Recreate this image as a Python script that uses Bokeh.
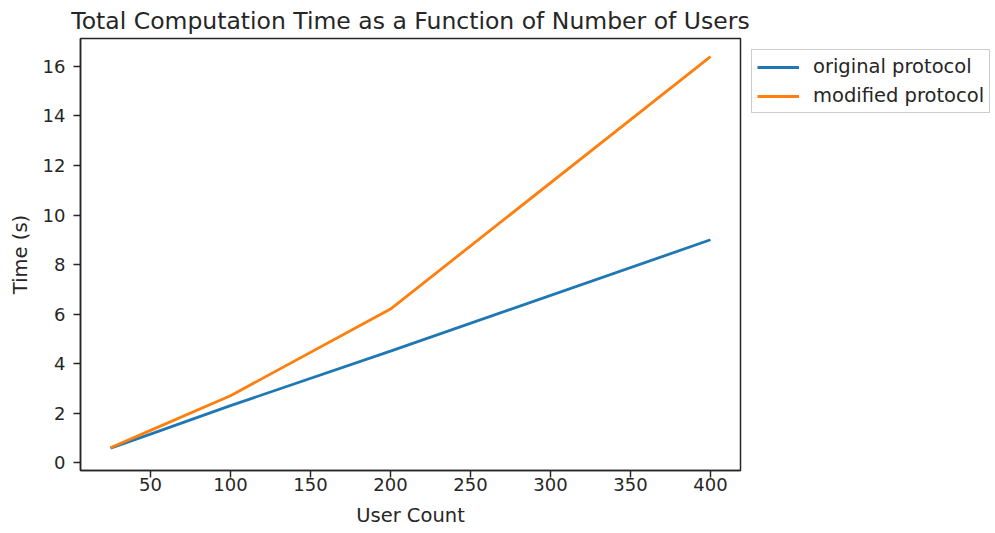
from bokeh.plotting import figure
from bokeh.models import FixedTicker, Range1d, Legend, LegendItem
from bokeh.embed import file_html
from bokeh.resources import INLINE

user_count = [25, 50, 100, 200, 400]
original_protocol = [0.58, 1.15, 2.3, 4.5, 9.0]
modified_protocol = [0.6, 1.3, 2.7, 6.2, 16.4]
x_ticks = [50, 100, 150, 200, 250, 300, 350, 400]
y_ticks = [0, 2, 4, 6, 8, 10, 12, 14, 16]

FONT = "DejaVu Sans"
TXT = "#262626"

p = figure(frame_width=660, frame_height=432, output_backend="svg", toolbar_location=None,
           x_range=Range1d(6.25, 418.75), y_range=Range1d(-0.32, 17.13),
           title="Total Computation Time as a Function of Number of Users")
p.min_border_left = 80
p.min_border_right = 0
p.min_border_bottom = 2
p.min_border_top = 4

p.title.align = "center"
p.title.text_font = FONT
p.title.text_font_size = "23.5px"
p.title.text_font_style = "normal"
p.title.text_color = TXT
p.title.standoff = 8

p.xgrid.visible = False
p.ygrid.visible = False
p.outline_line_color = "#262626"
p.outline_line_width = 1.5
p.background_fill_color = "white"
p.border_fill_color = "white"

for ax in (p.xaxis[0], p.yaxis[0]):
    ax.major_tick_out = 7
    ax.major_tick_in = 0
    ax.minor_tick_out = 0
    ax.minor_tick_in = 0
    ax.major_label_text_font = FONT
    ax.major_label_text_font_size = "18px"
    ax.major_label_text_color = TXT
    ax.axis_label_text_font = FONT
    ax.axis_label_text_font_size = "19.5px"
    ax.axis_label_text_font_style = "normal"
    ax.axis_label_text_color = TXT
    ax.axis_line_color = "#262626"
    ax.axis_line_width = 1.5
    ax.major_tick_line_color = "#262626"
    ax.major_tick_line_width = 1.5

p.xaxis[0].ticker = FixedTicker(ticks=x_ticks)
p.yaxis[0].ticker = FixedTicker(ticks=y_ticks)
p.xaxis[0].axis_label = "User Count"
p.yaxis[0].axis_label = "Time (s)"
p.xaxis[0].major_label_standoff = 0
p.yaxis[0].major_label_standoff = 8
p.xaxis[0].axis_label_standoff = 10
p.yaxis[0].axis_label_standoff = 8

r1 = p.line(user_count, original_protocol, line_color="#1f77b4", line_width=2.8)
r2 = p.line(user_count, modified_protocol, line_color="#ff7f0e", line_width=2.8)

legend = Legend(items=[LegendItem(label="original protocol", renderers=[r1]),
                       LegendItem(label="modified protocol", renderers=[r2])],
                location="top_left")
legend.label_text_font = FONT
legend.label_text_font_size = "19.5px"
legend.label_text_color = TXT
legend.border_line_color = "#cccccc"
legend.border_line_alpha = 1
legend.border_line_width = 1.5
legend.background_fill_alpha = 0.8
legend.glyph_width = 42
legend.glyph_height = 22
legend.label_height = 22
legend.spacing = 6
legend.padding = 5
legend.margin = 11
legend.label_standoff = 14
p.add_layout(legend, "right")

open("out.html", "w").write(file_html(p, INLINE))
